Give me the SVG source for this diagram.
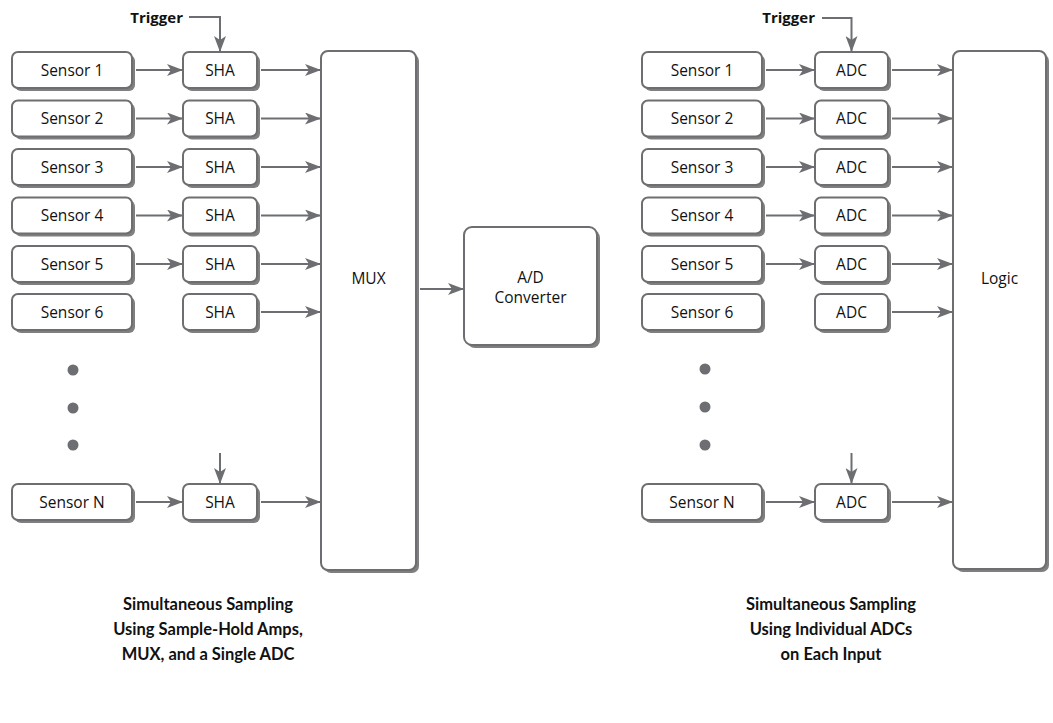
<svg xmlns="http://www.w3.org/2000/svg" width="1053" height="723" viewBox="0 0 1053 723">
  <style>
    .box { fill: #ffffff; stroke: #6d6e71; stroke-width: 2; }
    .shadow { fill: #7f7f7f; }
    .lbl { font-family: "Open Sans", "Noto Sans", sans-serif; font-size: 15.5px; fill: #111111; text-anchor: middle; }
    .trig { font-family: "Open Sans", "Noto Sans", sans-serif; font-size: 15px; font-weight: bold; fill: #111111; text-anchor: end; }
    .cap { font-family: Lato, "Open Sans", sans-serif; font-size: 16.5px; font-weight: bold; fill: #111111; text-anchor: middle; }
    .wire { fill: none; stroke: #6d6e71; stroke-width: 2; marker-end: url(#arrow); }
    .dot { fill: #6d6e71; }
  </style>
  <defs>
    <marker id="arrow" viewBox="0 0 16 12" refX="16" refY="6" markerWidth="16" markerHeight="12" markerUnits="userSpaceOnUse" orient="auto">
      <path d="M0,0 L16,6 L0,12 L4,6 Z" fill="#6d6e71"/>
    </marker>
  </defs>

  <rect width="1053" height="723" fill="#ffffff"/>

  <!-- ===== Left: SHA + MUX + single ADC ===== -->
  <g id="sensor1-l"><rect class="shadow" x="15" y="55" width="120" height="36" rx="6"/><rect class="box" x="12" y="52" width="120" height="36" rx="6"/><text class="lbl" x="72" y="75.5">Sensor 1</text></g>
  <g id="sensor2-l"><rect class="shadow" x="15" y="103.5" width="120" height="36" rx="6"/><rect class="box" x="12" y="100.5" width="120" height="36" rx="6"/><text class="lbl" x="72" y="124">Sensor 2</text></g>
  <g id="sensor3-l"><rect class="shadow" x="15" y="152" width="120" height="36" rx="6"/><rect class="box" x="12" y="149" width="120" height="36" rx="6"/><text class="lbl" x="72" y="172.5">Sensor 3</text></g>
  <g id="sensor4-l"><rect class="shadow" x="15" y="200.5" width="120" height="36" rx="6"/><rect class="box" x="12" y="197.5" width="120" height="36" rx="6"/><text class="lbl" x="72" y="221">Sensor 4</text></g>
  <g id="sensor5-l"><rect class="shadow" x="15" y="249" width="120" height="36" rx="6"/><rect class="box" x="12" y="246" width="120" height="36" rx="6"/><text class="lbl" x="72" y="269.5">Sensor 5</text></g>
  <g id="sensor6-l"><rect class="shadow" x="15" y="297" width="120" height="36" rx="6"/><rect class="box" x="12" y="294" width="120" height="36" rx="6"/><text class="lbl" x="72" y="317.5">Sensor 6</text></g>
  <g id="sensorN-l"><rect class="shadow" x="15" y="487" width="120" height="36" rx="6"/><rect class="box" x="12" y="484" width="120" height="36" rx="6"/><text class="lbl" x="72" y="507.5">Sensor N</text></g>

  <g id="sha1"><rect class="shadow" x="186" y="55" width="74" height="36" rx="6"/><rect class="box" x="183" y="52" width="74" height="36" rx="6"/><text class="lbl" x="220" y="75.5">SHA</text></g>
  <g id="sha2"><rect class="shadow" x="186" y="103.5" width="74" height="36" rx="6"/><rect class="box" x="183" y="100.5" width="74" height="36" rx="6"/><text class="lbl" x="220" y="124">SHA</text></g>
  <g id="sha3"><rect class="shadow" x="186" y="152" width="74" height="36" rx="6"/><rect class="box" x="183" y="149" width="74" height="36" rx="6"/><text class="lbl" x="220" y="172.5">SHA</text></g>
  <g id="sha4"><rect class="shadow" x="186" y="200.5" width="74" height="36" rx="6"/><rect class="box" x="183" y="197.5" width="74" height="36" rx="6"/><text class="lbl" x="220" y="221">SHA</text></g>
  <g id="sha5"><rect class="shadow" x="186" y="249" width="74" height="36" rx="6"/><rect class="box" x="183" y="246" width="74" height="36" rx="6"/><text class="lbl" x="220" y="269.5">SHA</text></g>
  <g id="sha6"><rect class="shadow" x="186" y="297" width="74" height="36" rx="6"/><rect class="box" x="183" y="294" width="74" height="36" rx="6"/><text class="lbl" x="220" y="317.5">SHA</text></g>
  <g id="shaN"><rect class="shadow" x="186" y="487" width="74" height="36" rx="6"/><rect class="box" x="183" y="484" width="74" height="36" rx="6"/><text class="lbl" x="220" y="507.5">SHA</text></g>

  <g id="mux"><rect class="shadow" x="324" y="54" width="95" height="519" rx="7"/><rect class="box" x="321" y="51" width="95" height="519" rx="7"/><text class="lbl" x="368.5" y="284">MUX</text></g>

  <g id="adc-converter"><rect class="shadow" x="467" y="230" width="133" height="118" rx="8"/><rect class="box" x="464" y="227" width="133" height="118" rx="8"/><text class="lbl" x="530.5" y="283">A/D</text><text class="lbl" x="530.5" y="303">Converter</text></g>

  <g id="dots-l"><circle class="dot" cx="73" cy="370" r="5.5"/><circle class="dot" cx="73" cy="408" r="5.5"/><circle class="dot" cx="73" cy="445" r="5.5"/></g>

  <g id="trigger-l"><text class="trig" x="183" y="23">Trigger</text></g>

  <!-- ===== Right: one ADC per input ===== -->
  <g id="sensor1-r"><rect class="shadow" x="645" y="55" width="120" height="36" rx="6"/><rect class="box" x="642" y="52" width="120" height="36" rx="6"/><text class="lbl" x="702" y="75.5">Sensor 1</text></g>
  <g id="sensor2-r"><rect class="shadow" x="645" y="103.5" width="120" height="36" rx="6"/><rect class="box" x="642" y="100.5" width="120" height="36" rx="6"/><text class="lbl" x="702" y="124">Sensor 2</text></g>
  <g id="sensor3-r"><rect class="shadow" x="645" y="152" width="120" height="36" rx="6"/><rect class="box" x="642" y="149" width="120" height="36" rx="6"/><text class="lbl" x="702" y="172.5">Sensor 3</text></g>
  <g id="sensor4-r"><rect class="shadow" x="645" y="200.5" width="120" height="36" rx="6"/><rect class="box" x="642" y="197.5" width="120" height="36" rx="6"/><text class="lbl" x="702" y="221">Sensor 4</text></g>
  <g id="sensor5-r"><rect class="shadow" x="645" y="249" width="120" height="36" rx="6"/><rect class="box" x="642" y="246" width="120" height="36" rx="6"/><text class="lbl" x="702" y="269.5">Sensor 5</text></g>
  <g id="sensor6-r"><rect class="shadow" x="645" y="297" width="120" height="36" rx="6"/><rect class="box" x="642" y="294" width="120" height="36" rx="6"/><text class="lbl" x="702" y="317.5">Sensor 6</text></g>
  <g id="sensorN-r"><rect class="shadow" x="645" y="487" width="120" height="36" rx="6"/><rect class="box" x="642" y="484" width="120" height="36" rx="6"/><text class="lbl" x="702" y="507.5">Sensor N</text></g>

  <g id="adc1"><rect class="shadow" x="818" y="55" width="73" height="36" rx="6"/><rect class="box" x="815" y="52" width="73" height="36" rx="6"/><text class="lbl" x="851.5" y="75.5">ADC</text></g>
  <g id="adc2"><rect class="shadow" x="818" y="103.5" width="73" height="36" rx="6"/><rect class="box" x="815" y="100.5" width="73" height="36" rx="6"/><text class="lbl" x="851.5" y="124">ADC</text></g>
  <g id="adc3"><rect class="shadow" x="818" y="152" width="73" height="36" rx="6"/><rect class="box" x="815" y="149" width="73" height="36" rx="6"/><text class="lbl" x="851.5" y="172.5">ADC</text></g>
  <g id="adc4"><rect class="shadow" x="818" y="200.5" width="73" height="36" rx="6"/><rect class="box" x="815" y="197.5" width="73" height="36" rx="6"/><text class="lbl" x="851.5" y="221">ADC</text></g>
  <g id="adc5"><rect class="shadow" x="818" y="249" width="73" height="36" rx="6"/><rect class="box" x="815" y="246" width="73" height="36" rx="6"/><text class="lbl" x="851.5" y="269.5">ADC</text></g>
  <g id="adc6"><rect class="shadow" x="818" y="297" width="73" height="36" rx="6"/><rect class="box" x="815" y="294" width="73" height="36" rx="6"/><text class="lbl" x="851.5" y="317.5">ADC</text></g>
  <g id="adcN"><rect class="shadow" x="818" y="487" width="73" height="36" rx="6"/><rect class="box" x="815" y="484" width="73" height="36" rx="6"/><text class="lbl" x="851.5" y="507.5">ADC</text></g>

  <g id="logic"><rect class="shadow" x="956" y="54" width="93" height="518" rx="7"/><rect class="box" x="953" y="51" width="93" height="518" rx="7"/><text class="lbl" x="999.5" y="284">Logic</text></g>

  <g id="dots-r"><circle class="dot" cx="705" cy="369" r="5.5"/><circle class="dot" cx="705" cy="407" r="5.5"/><circle class="dot" cx="705" cy="445" r="5.5"/></g>

  <g id="trigger-r"><text class="trig" x="815" y="23">Trigger</text></g>

  <!-- ===== Connectors ===== -->
  <g id="connectors">
    <!-- trigger feeds -->
    <path class="wire" d="M189,17 H220 V52"/>
    <path class="wire" d="M220,453 V484"/>
    <path class="wire" d="M822,18 H851.5 V52"/>
    <path class="wire" d="M851.5,453 V484"/>
    <!-- sensors to SHAs -->
    <path class="wire" d="M136,70 H183"/>
    <path class="wire" d="M136,118.5 H183"/>
    <path class="wire" d="M136,167 H183"/>
    <path class="wire" d="M136,215.5 H183"/>
    <path class="wire" d="M136,264 H183"/>
    <path class="wire" d="M136,502 H183"/>
    <!-- SHAs to MUX -->
    <path class="wire" d="M261,70 H321"/>
    <path class="wire" d="M261,118.5 H321"/>
    <path class="wire" d="M261,167 H321"/>
    <path class="wire" d="M261,215.5 H321"/>
    <path class="wire" d="M261,264 H321"/>
    <path class="wire" d="M261,312 H321"/>
    <path class="wire" d="M261,502 H321"/>
    <!-- MUX to converter -->
    <path class="wire" d="M420,289 H464"/>
    <!-- sensors to ADCs -->
    <path class="wire" d="M766,70 H815"/>
    <path class="wire" d="M766,118.5 H815"/>
    <path class="wire" d="M766,167 H815"/>
    <path class="wire" d="M766,215.5 H815"/>
    <path class="wire" d="M766,264 H815"/>
    <path class="wire" d="M766,502 H815"/>
    <!-- ADCs to logic -->
    <path class="wire" d="M892,70 H953"/>
    <path class="wire" d="M892,118.5 H953"/>
    <path class="wire" d="M892,167 H953"/>
    <path class="wire" d="M892,215.5 H953"/>
    <path class="wire" d="M892,264 H953"/>
    <path class="wire" d="M892,312 H953"/>
    <path class="wire" d="M892,502 H953"/>
  </g>

  <!-- captions -->
  <g id="caption-l">
    <text class="cap" x="208" y="610">Simultaneous Sampling</text>
    <text class="cap" x="208" y="635">Using Sample-Hold Amps,</text>
    <text class="cap" x="208" y="660">MUX, and a Single ADC</text>
  </g>
  <g id="caption-r">
    <text class="cap" x="831" y="610">Simultaneous Sampling</text>
    <text class="cap" x="831" y="635">Using Individual ADCs</text>
    <text class="cap" x="831" y="660">on Each Input</text>
  </g>
</svg>
